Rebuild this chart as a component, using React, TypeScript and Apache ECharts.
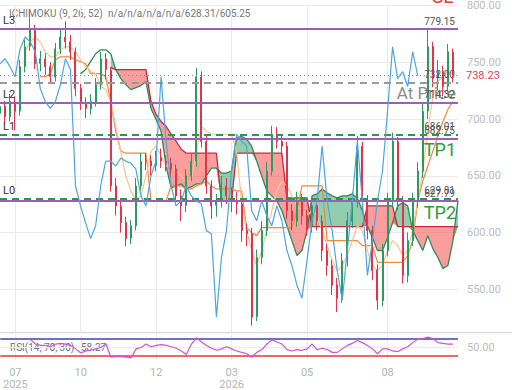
import React, { useEffect, useRef } from 'react';
import * as echarts from 'echarts';

// ---------- data ----------
const openP = [705,711,702,715,707,746,764,778,749,753,
746,737,762,772,768,759,727,715,709,715,
730,753,743,641,623,609,595,606,641,663,
663,659,666,663,661,656,632,624,650,663,
737,680,641,624,628,641,632,628,625,602,
599,526,578,602,654,687,680,676,619,610,
628,615,606,624,610,584,571,554,542,575,
610,628,676,628,602,567,540,584,628,680,
628,562,593,628,654,707,764,736,742,729,
759,null];
const closeP = [711.1,702.3,715.4,706.7,746.1,763.6,778.5,748.7,753.1,746.1,
737.3,761.8,772.3,768.0,759.2,726.8,715.4,709.3,715.4,730.3,
753.1,743.5,641.0,623.5,608.7,594.7,606.0,641.0,662.9,662.9,
658.6,665.6,662.9,661.2,655.9,632.3,623.5,649.8,662.9,737.3,
680.4,641.0,623.5,627.9,641.0,632.3,627.9,625.3,601.7,599.0,
525.5,578.0,601.7,654.2,686.6,680.4,676.1,619.2,610.4,627.9,
614.8,606.0,623.5,610.4,584.2,571.0,553.5,542.1,575.4,610.4,
627.9,676.1,627.9,601.7,566.6,540.4,584.2,627.9,680.4,627.9,
562.3,592.9,627.9,654.2,706.7,763.6,735.6,741.7,728.6,759.2,
738.23,null];
const highP = [718,716,722,720,752,770,795,783,760,758,
750,767,780,786,774,763,731,719,722,736,
759,758,746,648,630,614,611,648,670,670,
668,672,674,668,666,660,638,656,670,745,
742,686,646,634,650,648,640,636,630,608,
604,585,610,662,694,693,686,680,625,636,
634,620,630,628,615,590,576,560,582,618,
636,685,680,633,606,572,590,635,688,684,
632,600,635,662,714,779,768,752,747,766,
762,null];
const lowP = [700,695,698,690,703,741,760,744,742,739,
731,733,757,762,752,720,708,701,704,711,
726,735,636,615,600,588,590,602,637,655,
650,654,657,654,648,624,610,618,645,658,
675,634,612,614,622,625,618,616,592,588,
518,522,572,597,650,674,668,612,602,605,
607,597,600,602,575,562,545,530,538,570,
604,622,620,594,558,532,535,579,622,620,
555,556,588,622,648,700,728,725,720,724,
732,null];
const tenkan = [null,null,null,null,null,
759.2,768.0,772.3,768.0,759.2,754.8,754.8,761.0,763.6,763.6,
759.2,752.2,746.1,741.7,740.0,728.6,726.0,715.5,693.6,671.7,
649.8,636.7,627.9,632.3,649.8,671.7,676.1,667.3,658.6,658.6,
654.2,649.8,645.4,645.4,671.7,693.6,689.2,686.6,686.6,686.6,
686.6,686.6,671.7,627.9,601.7,584.2,571.0,584.2,601.7,619.2,
636.7,645.4,641.1,632.3,623.5,619.2,614.8,619.2,614.8,601.7,
588.5,575.4,566.7,571.0,579.8,592.9,606.0,601.7,584.2,571.0,
566.7,571.0,584.2,592.9,588.5,579.8,584.2,601.7,627.9,654.2,
689.2,719.8,733.0,737.3,741.7,740.0,null];
const kijun = [null,null,null,null,null,null,null,null,
737.3,737.3,740.0,752.2,754.8,754.8,754.8,752.2,750.5,748.7,
740.0,740.0,740.0,737.3,715.5,689.2,671.7,669.9,669.9,669.9,
669.9,669.9,627.9,627.9,627.9,627.9,641.1,641.1,641.1,638.4,
638.4,641.1,642.8,645.4,641.1,638.4,638.4,638.4,638.4,636.7,
636.7,604.3,599.9,597.3,604.3,604.3,604.3,604.3,604.3,604.3,
604.3,619.2,641.1,641.1,641.1,641.1,641.1,592.9,592.9,592.9,
592.9,592.9,592.9,592.9,588.5,588.5,588.5,573.7,573.7,573.7,
573.7,573.7,573.7,579.8,592.9,627.9,645.4,658.6,671.7,684.8,
697.9,708.5,715.5,null];
const spanA = [null,null,null,null,null,null,null,null,null,null,null,null,null,null,null,null,
740.0,743.5,750.5,757.5,761.0,761.0,757.5,743.5,735.6,730.3,
725.9,727.7,729.5,733.0,709.3,699.7,689.2,658.6,639.3,641.0,
642.8,638.4,640.2,642.8,642.8,649.8,656.8,656.8,652.4,652.4,
654.2,683.1,684.8,682.2,676.1,662.9,649.8,636.7,632.3,627.9,
619.2,606.0,592.9,579.8,584.2,601.7,632.3,634.0,638.4,634.9,
632.3,630.5,632.3,632.3,634.0,630.5,619.2,606.0,595.5,584.2,
584.2,595.5,608.7,623.5,626.2,623.5,601.7,592.9,584.2,597.3,
585.9,578.0,568.4,571.0,592.9,628.31];
const spanB = [null,null,null,null,null,null,null,null,null,null,null,null,null,null,null,null,null,null,null,null,null,null,
745.2,743.5,743.5,743.5,743.5,743.5,743.5,743.5,715.4,704.1,
697.9,693.6,686.6,680.4,673.4,669.9,669.9,669.9,669.9,669.9,
669.9,669.9,627.9,627.9,627.9,669.9,669.9,669.9,669.9,669.9,
669.9,669.9,669.9,669.9,669.9,630.5,630.5,630.5,630.5,630.5,
605.25,605.25,605.25,605.25,605.25,605.25,605.25,605.25,605.25,605.25,
605.25,623.5,623.5,623.5,623.5,623.5,623.5,605.25,605.25,605.25,
605.25,605.25,605.25,605.25,605.25,605.25,605.25,605.25,605.25,605.25];
const rsi = [null,null,null,null,null,null,
68.8,58.3,55,55,51.7,58.3,60,58.3,55,46.7,
36.7,41.7,43.3,46.7,50,58.3,26.7,28.3,28.3,26.7,
25,46.7,50,58.3,51.7,55,56.7,55,51.7,48.3,
41.7,33.3,58.3,73.3,63.3,55,48.3,43.3,46.7,51.7,
46.7,41.7,38.3,35,26.7,38.3,45,58.3,68.3,63.3,
58.3,45,41.7,45,43.3,46.7,58.3,45,48.3,45,
38.3,38.3,46.7,55,60,66.7,61.7,55,46.7,35,
46.7,46.7,41.7,40,46.7,51.7,61.7,70,71.7,75,
71.7,61.7,60,58.3,58.27,null];
const categories = closeP.map((_, i) => String(i));
const tickIndex = [3, 16, 31, 46, 61, 77];
const tickText = ['07\n2025', '10', '12', '03\n2026', '05', '08'];
const priceTicks = [550, 600, 650, 700, 750, 800];
const levels = { L3: 779.15, L2: 714.32, L1: 682.75, L0: 627.79 };
const tp1 = 686.01, tp2 = 629.81, atPrice = 732.0, lastPrice = 738.23;
const rsiBands = [70, 30];

const PURPLE = '#9b5fb8';
const GREEN = '#2e9a40';
const CLEAR = 'rgba(0,0,0,0)';

export default function App() {
  const ref = useRef<HTMLDivElement>(null);
  useEffect(() => {
    if (!ref.current) return;
    const chart = echarts.init(ref.current, undefined, { renderer: 'svg' });
    const N = closeP.length;
    const chikou = closeP.map((_, i) => (i + 7 < N ? closeP[i + 7] : null));
    const candles = closeP.map((c, i) => (c == null ? '-' : [openP[i], c, lowP[i], highP[i]]));
    const both = (i: number) => spanA[i] != null && spanB[i] != null;
    const baseAB = spanA.map((a, i) => (both(i) ? Math.min(a as number, spanB[i] as number) : null));
    const gDiff = spanA.map((a, i) => (both(i) ? Math.max((a as number) - (spanB[i] as number), 0) : null));
    const rDiff = spanA.map((a, i) => (both(i) ? Math.max((spanB[i] as number) - (a as number), 0) : null));
    const isTick = (idx: number) => tickIndex.includes(idx);
    const lbl = (txt: string, pos: string, extra: any = {}) => ({
      show: true, position: pos, formatter: txt, color: '#555', fontSize: 10, distance: 3, ...extra,
    });
    const clearLine = { color: CLEAR, width: 1, type: 'solid' };
    const hidden = { lineStyle: { color: CLEAR, width: 0 } };
    const lineDef = (name: string, data: any[], color: string, width = 1.2, z = 3) => ({
      name, type: 'line', data, xAxisIndex: 0, yAxisIndex: 0, showSymbol: false, symbol: 'none',
      lineStyle: { color, width }, z, silent: true,
    });
    chart.setOption({
      animation: false,
      backgroundColor: '#fff',
      textStyle: { fontFamily: 'Roboto, sans-serif' },
      grid: [
        { left: 0, top: 3.4, width: 458, height: 328.6 },
        { left: 0, top: 335, width: 458, height: 36 },
      ],
      xAxis: [
        { type: 'category', gridIndex: 0, data: categories, boundaryGap: false,
          axisLine: { show: false }, axisTick: { show: false }, axisLabel: { show: false },
          splitLine: { show: true, interval: (i: number) => isTick(i), lineStyle: { color: '#ebebeb' } } },
        { type: 'category', gridIndex: 1, data: categories, boundaryGap: false,
          axisLine: { show: false }, axisTick: { show: false },
          axisLabel: { show: true, interval: (i: number) => isTick(i), color: '#b5b5b5', fontSize: 11, margin: 6, lineHeight: 12,
            formatter: (_v: string, i: number) => { const k = tickIndex.indexOf(i); return k >= 0 ? tickText[k] : ''; } },
          splitLine: { show: true, interval: (i: number) => isTick(i), lineStyle: { color: '#ebebeb' } } },
      ],
      yAxis: [
        { type: 'value', gridIndex: 0, position: 'right', min: 512.4, max: 800, scale: true,
          axisLine: { show: false },
          axisTick: { show: false, customValues: priceTicks },
          axisLabel: { customValues: priceTicks, color: '#bdbdbd', fontSize: 11, margin: 9, formatter: (v: number) => v.toFixed(2) },
          splitLine: { show: true, lineStyle: { color: '#ebebeb' } } },
        { type: 'value', gridIndex: 1, position: 'right', min: 20, max: 80,
          axisLine: { show: false },
          axisTick: { show: false, customValues: [50] },
          axisLabel: { customValues: [50], color: '#bdbdbd', fontSize: 11, margin: 9, formatter: (v: number) => v.toFixed(2) },
          splitLine: { show: true, lineStyle: { color: '#ebebeb' } } },
      ],
      series: [
        { ...lineDef('baseG', baseAB, CLEAR, 0, 1), stack: 'g', ...hidden },
        { ...lineDef('cloudG', gDiff, CLEAR, 0, 1), stack: 'g', ...hidden, areaStyle: { color: 'rgba(52,160,100,0.75)' } },
        { ...lineDef('baseR', baseAB, CLEAR, 0, 1), stack: 'r', ...hidden },
        { ...lineDef('cloudR', rDiff, CLEAR, 0, 1), stack: 'r', ...hidden, areaStyle: { color: 'rgba(244,80,80,0.8)' } },
        lineDef('spanA', spanA, '#2f8a58', 1.3, 2),
        lineDef('spanB', spanB, '#c42a3c', 1.3, 2),
        lineDef('kijun', kijun, '#f0883e', 1.2, 3),
        lineDef('tenkan', tenkan, '#f7c48e', 1.2, 3),
        { name: 'price', type: 'candlestick', data: candles, xAxisIndex: 0, yAxisIndex: 0, barWidth: 1.5, z: 4, silent: true,
          itemStyle: { color: '#2a9c62', color0: '#e0334c', borderColor: '#2a9c62', borderColor0: '#e0334c', borderWidth: 1 } },
        { ...lineDef('chikou', chikou, '#4ea6e0', 1.2, 5),
          markLine: { silent: true, symbol: ['none', 'none'], animation: false,
            data: [
              { yAxis: levels.L3, lineStyle: { color: PURPLE, width: 2, type: 'solid' }, label: lbl('779.15', 'insideEndTop') },
              { yAxis: levels.L3 + 0.01, lineStyle: clearLine, label: lbl('L3', 'insideStartTop', { color: '#333', fontSize: 11 }) },
              { yAxis: lastPrice, lineStyle: { color: '#8a8a8a', width: 1, type: [1, 3] }, label: lbl('738.23', 'end', { color: '#e8425a', fontSize: 11, distance: 8 }) },
              { yAxis: atPrice, lineStyle: { color: '#999', width: 2, type: [7, 5] }, label: lbl('732.00', 'insideEndTop') },
              { yAxis: atPrice - 0.01, lineStyle: clearLine, label: lbl('At Price', 'insideEndBottom', { color: '#8c8c8c', fontSize: 17, distance: 2 }) },
              { yAxis: levels.L2, lineStyle: { color: PURPLE, width: 2, type: 'solid' }, label: lbl('714.32', 'insideEndTop') },
              { yAxis: levels.L2 + 0.01, lineStyle: clearLine, label: lbl('L2', 'insideStartTop', { color: '#333', fontSize: 11 }) },
              { yAxis: tp1, lineStyle: { color: GREEN, width: 2, type: [7, 5] }, label: lbl('686.01', 'insideEndTop') },
              { yAxis: levels.L1, lineStyle: { color: PURPLE, width: 2, type: 'solid' }, label: lbl('682.75', 'insideEndTop') },
              { yAxis: tp1 + 0.01, lineStyle: clearLine, label: lbl('L1', 'insideStartTop', { color: '#333', fontSize: 11 }) },
              { yAxis: levels.L1 - 0.01, lineStyle: clearLine, label: lbl('TP1', 'insideEndBottom', { color: GREEN, fontSize: 18, distance: 2 }) },
              { yAxis: tp2, lineStyle: { color: GREEN, width: 2, type: [7, 5] }, label: lbl('629.81', 'insideEndTop') },
              { yAxis: levels.L0, lineStyle: { color: PURPLE, width: 2, type: 'solid' }, label: lbl('627.79', 'insideEndTop') },
              { yAxis: tp2 + 0.01, lineStyle: clearLine, label: lbl('L0', 'insideStartTop', { color: '#333', fontSize: 11 }) },
              { yAxis: levels.L0 - 0.01, lineStyle: clearLine, label: lbl('TP2', 'insideEndBottom', { color: GREEN, fontSize: 18, distance: 2 }) },
            ] } },
        { name: 'rsi', type: 'line', data: rsi, xAxisIndex: 1, yAxisIndex: 1, showSymbol: false, symbol: 'none', silent: true,
          lineStyle: { color: '#d84fd0', width: 1.2 }, z: 5,
          markLine: { silent: true, symbol: ['none', 'none'], animation: false, label: { show: false },
            data: [
              { yAxis: rsiBands[0], lineStyle: { color: '#6f72c4', width: 2, type: 'solid' } },
              { yAxis: rsiBands[1], lineStyle: { color: '#e53935', width: 1.5, type: 'solid' } },
            ] } },
      ],
      graphic: [
        { type: 'line', shape: { x1: 0, y1: 332.5, x2: 512, y2: 332.5 }, style: { stroke: '#dcdcdc', lineWidth: 1.5 }, silent: true },
        { type: 'text', x: 9, y: 13, style: { text: 'ICHIMOKU (9, 26, 52)', fontSize: 10, fill: '#777', fontFamily: 'Roboto, sans-serif', textVerticalAlign: 'middle' } },
        { type: 'text', x: 108, y: 13, style: { text: 'n/a/n/a/n/a/n/a/628.31/605.25', fontSize: 10, fill: '#777', fontFamily: 'Roboto, sans-serif', textVerticalAlign: 'middle' } },
        { type: 'text', x: 10, y: 347, style: { text: 'RSI(14, 70, 30)', fontSize: 10, fill: '#6a6f80', fontFamily: 'Roboto, sans-serif', textVerticalAlign: 'middle' } },
        { type: 'text', x: 81, y: 347, style: { text: '58.27', fontSize: 10, fill: '#6a6f80', fontFamily: 'Roboto, sans-serif', textVerticalAlign: 'middle' } },
        { type: 'text', x: 432, y: 6, style: { text: 'SL', fontSize: 19, fill: '#e03a3a', fontFamily: 'Roboto, sans-serif', textVerticalAlign: 'bottom' } },
      ],
    });
    return () => chart.dispose();
  }, []);
  return <div ref={ref} style={{ position: 'fixed', left: 0, top: 0, width: 520, height: 390, background: '#fff' }} />;
}
